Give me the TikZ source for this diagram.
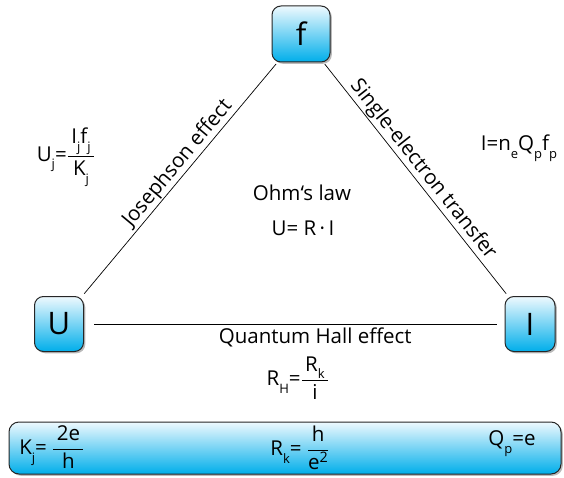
\documentclass[tikz,border=0pt]{standalone}
\usepackage{fontspec}
\setmainfont{Open Sans}
\usetikzlibrary{shadows}
\definecolor{cyantop}{HTML}{EEF9FE}
\definecolor{cyanbot}{HTML}{00AEEA}
\newcommand{\lsub}[1]{\raisebox{-0.38em}{\fontsize{13}{13}\selectfont #1}}
\newcommand{\myfr}[2]{$\displaystyle\frac{\mbox{\,#1\,}}{\mbox{#2}}$}
\tikzset{
  keybox/.style={draw=black!85, line width=1pt, rounded corners=9pt,
    top color=cyantop, bottom color=cyanbot,
    drop shadow={shadow xshift=1.8pt, shadow yshift=-1.8pt, fill=black!45, opacity=0.6},
    font=\fontsize{31}{31}\selectfont, inner sep=0pt},
  conn/.style={draw=black, line width=0.7pt},
  lbl/.style={font=\fontsize{20.5}{24}\selectfont, inner sep=1pt},
  fml/.style={font=\fontsize{20.5}{24}\selectfont, inner sep=0pt}
}
\begin{document}
\begin{tikzpicture}[x=1pt,y=-1pt]
\useasboundingbox (0,0) rectangle (564,478);
% key boxes
\node[keybox, minimum width=58pt, minimum height=56pt] (f) at (301,34) {f};
\node[keybox, minimum width=49pt, minimum height=55pt] (U) at (59,324) {U};
\node[keybox, minimum width=50pt, minimum height=55pt] (I) at (530,324) {I};
% connectors
\draw[conn, shorten <=3pt, shorten >=2pt] (U) -- node[lbl, sloped, above, pos=0.535] (jos) {Josephson effect} (f);
\draw[conn, shorten <=2pt, shorten >=3pt] (f) -- node[lbl, sloped, above, pos=0.49] (set) {Single-electron transfer} (I);
\draw[conn, shorten <=10pt, shorten >=8pt] (U) -- node[lbl, below=2pt, pos=0.55] (qhe) {Quantum Hall effect} (I);
% centre
\node[lbl] (ohm) at (302,193) {Ohm‘s law};
\node[lbl] (ohmf) at (303,228) {U= R\,·\,I};
% formulas
\node[fml] (uj) at (66,157) {U\lsub{j}=\myfr{I\lsub{j}f\lsub{j}}{K\lsub{j}}};
\node[fml] (inf) at (519,148) {I=n\lsub{e}Q\lsub{p}f\lsub{p}};
\node[fml] (rh) at (298,378) {R\lsub{H}=\myfr{R\lsub{k}}{i}};
% bottom bar
\node[keybox, minimum width=552pt, minimum height=52pt, rounded corners=10pt] (bar) at (285,448) {};
\node[fml] (kj) at (52,447) {K\lsub{j}= \myfr{2e}{h}};
\node[fml] (rk) at (300,448) {R\lsub{k}= \myfr{h}{e\textsuperscript{2}}};
\node[fml] (qp) at (512,444) {Q\lsub{p}=e};
\end{tikzpicture}
\end{document}
